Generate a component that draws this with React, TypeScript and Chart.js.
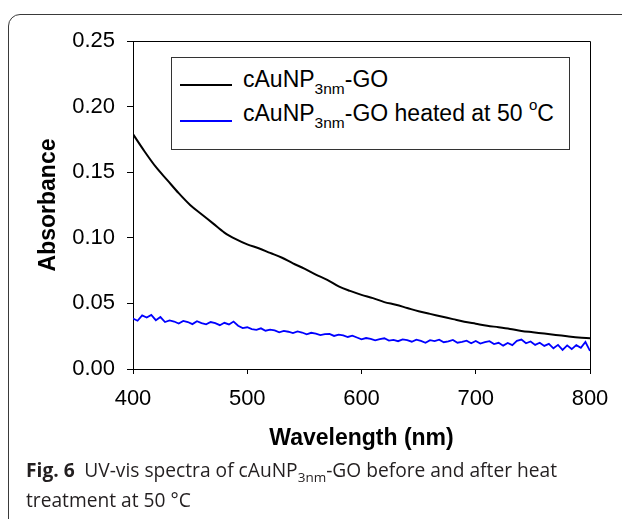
import React, { useEffect, useRef } from "react";
import { Chart, registerables } from "chart.js";

Chart.register(...registerables);

// Black series: cAuNP3nm-GO (wavelength nm, absorbance)
const blackWavelengths = [
  400, 410, 420, 430, 440, 450, 460, 470, 480, 490, 500, 510, 520, 530, 540, 550, 560, 570, 580, 590,
  600, 610, 620, 630, 640, 650, 660, 670, 680, 690, 700, 710, 720, 730, 740, 750, 760, 770, 780, 790, 800,
];
const blackAbsorbance = [
  0.179, 0.166, 0.154, 0.144, 0.134, 0.125, 0.118, 0.111, 0.104, 0.099, 0.095, 0.092, 0.0885, 0.085, 0.0805,
  0.0765, 0.072, 0.068, 0.063, 0.0595, 0.0565, 0.054, 0.051, 0.049, 0.0465, 0.044, 0.042, 0.04, 0.038, 0.036,
  0.0345, 0.033, 0.0318, 0.0305, 0.029, 0.028, 0.027, 0.026, 0.025, 0.024, 0.0235,
];

// Blue series: cAuNP3nm-GO heated at 50 °C
const blueWavelengths = [
  400, 404, 408, 412, 416, 420, 424, 428, 432, 436, 440, 444, 448, 452, 456, 460, 464, 468, 472, 476,
  480, 484, 488, 492, 496, 500, 504, 508, 512, 516, 520, 524, 528, 532, 536, 540, 544, 548, 552, 556,
  560, 564, 568, 572, 576, 580, 584, 588, 592, 596, 600, 604, 608, 612, 616, 620, 624, 628, 632, 636,
  640, 644, 648, 652, 656, 660, 664, 668, 672, 676, 680, 684, 688, 692, 696, 700, 704, 708, 712, 716,
  720, 724, 728, 732, 736, 740, 744, 748, 752, 756, 760, 764, 768, 772, 776, 780, 784, 788, 792, 796, 800,
];
const blueAbsorbance = [
  // 400 - 488
  0.0385, 0.0368, 0.0408, 0.0392, 0.0412, 0.0372, 0.0396, 0.0358, 0.037, 0.0362, 0.0346, 0.0366, 0.0358, 0.0342,
  0.0364, 0.035, 0.034, 0.0358, 0.035, 0.0334, 0.0352, 0.034, 0.0362,
  // 492 - 596
  0.033, 0.0312, 0.0318, 0.0304, 0.0298, 0.031, 0.0292, 0.03, 0.0294, 0.028, 0.029, 0.0284, 0.0274, 0.0286,
  0.0278, 0.0264, 0.0276, 0.027, 0.0258, 0.0266, 0.0268, 0.0252, 0.0262, 0.0256, 0.0244, 0.0254, 0.024,
  // 600 - 696
  0.0226, 0.0236, 0.023, 0.0218, 0.0228, 0.0234, 0.0216, 0.0222, 0.0212, 0.0226, 0.022, 0.0208, 0.0224, 0.0214,
  0.02, 0.022, 0.0212, 0.0224, 0.0204, 0.021, 0.0222, 0.02, 0.0206, 0.0216, 0.0196,
  // 700 - 800
  0.0214, 0.0194, 0.0204, 0.0212, 0.019, 0.02, 0.0178, 0.0198, 0.0182, 0.0214, 0.0224, 0.0196, 0.021, 0.0184,
  0.02, 0.0176, 0.0192, 0.0158, 0.0184, 0.0146, 0.018, 0.0152, 0.0182, 0.0162, 0.0206, 0.0138,
];

const xTicks = [400, 500, 600, 700, 800];
const yTicks = [0.0, 0.05, 0.1, 0.15, 0.2, 0.25];

const FONT = "'Liberation Sans', Arial, sans-serif";

const frameBox = {
  id: "frameBox",
  afterDraw(chart: any) {
    const { ctx, chartArea } = chart;
    ctx.save();
    ctx.strokeStyle = "#000";
    ctx.lineWidth = 1;
    ctx.beginPath();
    ctx.moveTo(chartArea.left, chartArea.top + 0.5);
    ctx.lineTo(chartArea.right + 0.5, chartArea.top + 0.5);
    ctx.lineTo(chartArea.right + 0.5, chartArea.bottom);
    ctx.stroke();
    ctx.restore();
  },
};

export default function App() {
  const canvasRef = useRef<HTMLCanvasElement>(null);

  useEffect(() => {
    if (!canvasRef.current) return;
    const chart = new Chart(canvasRef.current, {
      type: "line",
      data: {
        datasets: [
          {
            label: "cAuNP3nm-GO",
            data: blackWavelengths.map((x, i) => ({ x, y: blackAbsorbance[i] })),
            borderColor: "#000000",
            borderWidth: 2,
            pointRadius: 0,
            cubicInterpolationMode: "monotone",
            fill: false,
          },
          {
            label: "cAuNP3nm-GO heated at 50 °C",
            data: blueWavelengths.map((x, i) => ({ x, y: blueAbsorbance[i] })),
            borderColor: "#0000ff",
            borderWidth: 1.8,
            pointRadius: 0,
            tension: 0,
            fill: false,
          },
        ],
      },
      options: {
        animation: false,
        responsive: false,
        devicePixelRatio: 1,
        layout: { padding: { left: 0, top: 41, right: 32, bottom: 60 } },
        plugins: { legend: { display: false }, tooltip: { enabled: false } },
        scales: {
          x: {
            type: "linear",
            min: 400,
            max: 800,
            afterBuildTicks: (scale: any) => {
              scale.ticks = xTicks.map((v) => ({ value: v }));
            },
            afterFit: (scale: any) => {
              scale.height = 90;
            },
            grid: { drawOnChartArea: false, tickLength: 5, color: "#000", tickColor: "#000" },
            border: { display: true, color: "#000", width: 1 },
            ticks: {
              color: "#000",
              font: { family: FONT, size: 22 },
              padding: 12,
              maxRotation: 0,
              callback: (v: any) => String(v),
            },
            title: {
              display: true,
              text: "Wavelength (nm)",
              color: "#000",
              font: { family: FONT, size: 23, weight: "bold" },
              padding: { top: 0, bottom: 7 },
            },
          },
          y: {
            min: 0,
            max: 0.25,
            afterBuildTicks: (scale: any) => {
              scale.ticks = yTicks.map((v) => ({ value: v }));
            },
            afterFit: (scale: any) => {
              scale.width = 133;
            },
            grid: { drawOnChartArea: false, tickLength: 6, color: "#000", tickColor: "#000" },
            border: { display: true, color: "#000", width: 1 },
            ticks: {
              color: "#000",
              font: { family: FONT, size: 22 },
              padding: 12,
              callback: (v: any) => Number(v).toFixed(2),
            },
            title: {
              display: true,
              text: "Absorbance",
              color: "#000",
              font: { family: FONT, size: 23, weight: "bold" },
              padding: { top: 35, bottom: 0 },
            },
          },
        },
      },
      plugins: [frameBox],
    } as any);
    return () => chart.destroy();
  }, []);

  const legendText: React.CSSProperties = {
    position: "absolute",
    left: 243,
    fontFamily: FONT,
    fontSize: 23,
    lineHeight: "23px",
    color: "#000",
    whiteSpace: "nowrap",
  };
  const sub: React.CSSProperties = { fontSize: 15.5, position: "relative", top: 7 };
  const sup: React.CSSProperties = { fontSize: 15, position: "relative", top: -11 };
  const capSub: React.CSSProperties = { fontSize: 13.5, position: "relative", top: 5 };

  return (
    <div
      style={{
        position: "absolute",
        left: 0,
        top: 0,
        width: 622,
        height: 519,
        overflow: "hidden",
        background: "#fff",
      }}
    >
      <div
        style={{
          position: "absolute",
          left: 8,
          top: 14,
          width: 700,
          height: 600,
          border: "1px solid #3a3a3a",
          borderRadius: 12,
        }}
      />
      <canvas
        ref={canvasRef}
        width={622}
        height={519}
        style={{ position: "absolute", left: 0, top: 0, width: 622, height: 519 }}
      />
      {/* legend */}
      <div
        style={{
          position: "absolute",
          left: 171,
          top: 57,
          width: 397,
          height: 91,
          border: "1px solid #333",
          background: "#fff",
        }}
      />
      <div style={{ position: "absolute", left: 180, top: 84, width: 52, height: 2, background: "#000" }} />
      <div style={{ position: "absolute", left: 180, top: 120, width: 52, height: 2, background: "#0000ff" }} />
      <div style={{ ...legendText, top: 68 }}>
        cAuNP<span style={sub}>3nm</span>-GO
      </div>
      <div style={{ ...legendText, top: 102 }}>
        cAuNP<span style={sub}>3nm</span>-GO heated at 50 <span style={sup}>o</span>C
      </div>
      {/* caption */}
      <div
        style={{
          position: "absolute",
          left: 26,
          top: 456,
          width: 596,
          fontFamily: "'Open Sans', 'Noto Sans', sans-serif",
          fontSize: 19.2,
          lineHeight: "27px",
          color: "#231f20",
        }}
      >
        <div style={{ whiteSpace: "nowrap" }}>
          <span style={{ fontWeight: "bold" }}>Fig. 6</span>
          {"\u2002"}UV-vis spectra of cAuNP<span style={capSub}>3nm</span>-GO before and after heat
        </div>
        <div style={{ whiteSpace: "nowrap" }}>treatment at 50 °C</div>
      </div>
    </div>
  );
}
